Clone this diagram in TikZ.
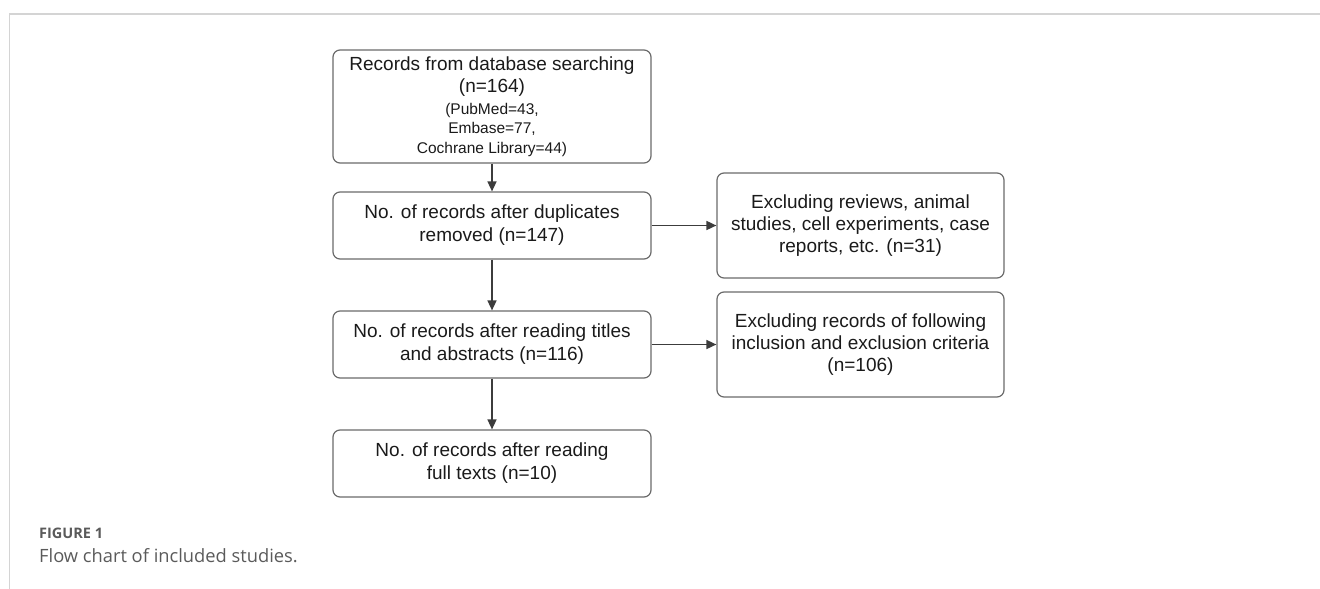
\documentclass[tikz,border=0pt]{standalone}
\usepackage{fontspec}
\setmainfont{Liberation Sans}
\newfontfamily\capfont{Open Sans}
\usetikzlibrary{arrows.meta}
\definecolor{boxline}{HTML}{6A6A6A}
\definecolor{arrowcol}{HTML}{3C3C3C}
\definecolor{framecol}{HTML}{D4D4D4}
\definecolor{captext}{HTML}{5A5A5A}
\definecolor{txt}{HTML}{1A1A1A}
\tikzset{
  flowbox/.style={draw=boxline, line width=1.2pt, rounded corners=7pt, align=center,
    inner sep=0pt, text=txt, font=\fontsize{19}{23}\selectfont},
  mainbox/.style={flowbox, minimum width=318pt, minimum height=67pt},
  sidebox/.style={flowbox, minimum width=287pt, minimum height=105pt, font=\fontsize{19}{22}\selectfont},
  flowarrow/.style={draw=arrowcol, line width=1.6pt, -{Triangle[length=10pt,width=9pt]}},
  captitle/.style={anchor=base west, text=captext, inner sep=0pt, font=\capfont\bfseries\fontsize{14.5}{17}\selectfont},
  capline/.style={anchor=base west, text=captext, inner sep=0pt, font=\capfont\fontsize{18.3}{22}\selectfont}
}
\begin{document}
\begin{tikzpicture}[x=1pt,y=-1pt]
\useasboundingbox (0,0) rectangle (1320,589);
\draw[framecol, line width=1.5pt] (9.5,589) -- (9.5,14) -- (1320,14);

\node[flowbox, minimum width=318pt, minimum height=113pt, font=\fontsize{19}{22}\selectfont] (rec) at (492,106.5)
  {Records from database searching\\(n=164)\\[0pt]
   {\fontsize{15.5}{19}\selectfont (PubMed=43,}\\[-2.5pt]
   {\fontsize{15.5}{19}\selectfont Embase=77,}\\[-2.5pt]
   {\fontsize{15.5}{19}\selectfont Cochrane Library=44)}};
\node[mainbox] (dup) at (492,225.5) {No. of records after duplicates\\removed (n=147)};
\node[mainbox] (tit) at (492,344.5) {No. of records after reading titles\\and abstracts (n=116)};
\node[mainbox] (full) at (492,463.5) {No. of records after reading\\full texts (n=10)};

\node[sidebox] (exa) at (860.5,225.5) {Excluding reviews, animal\\studies, cell experiments, case\\reports, etc. (n=31)};
\node[sidebox] (exb) at (860.5,344.5) {Excluding records of following\\inclusion and exclusion criteria\\(n=106)};

\draw[flowarrow] (rec) -- (dup);
\draw[flowarrow] (dup) -- (tit);
\draw[flowarrow] (tit) -- (full);
\draw[flowarrow] (dup) -- (exa);
\draw[flowarrow] (tit) -- (exb);

\node[captitle] (fig) at (39,538) {FIGURE 1};
\node[capline] (cap) at (39,562) {Flow chart of included studies.};
\end{tikzpicture}
\end{document}
